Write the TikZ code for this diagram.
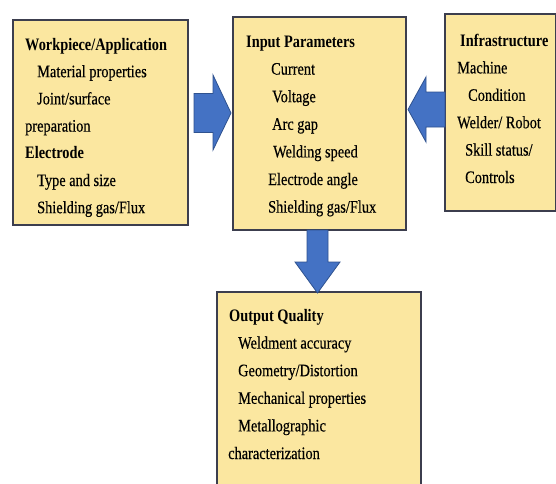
\documentclass[tikz,border=0pt]{standalone}
\usepackage{fontspec}
\setmainfont{Liberation Serif}[FakeStretch=0.82, FakeBold=0.4, BoldFeatures={FakeBold=0}]
\usetikzlibrary{calc}
\definecolor{boxfill}{RGB}{251,231,160}
\definecolor{boxline}{RGB}{60,62,78}
\definecolor{arrfill}{RGB}{68,114,196}
\definecolor{arrline}{RGB}{47,82,143}
\tikzset{
  panel/.style={draw=boxline, line width=1.4pt, fill=boxfill},
  blockarrow/.style={draw=arrline, line width=0.8pt, fill=arrfill, line join=miter},
  txt/.style={anchor=base west, inner sep=0pt, font=\fontsize{17.5}{20}\selectfont},
  hdr/.style={txt, font=\fontsize{17.5}{20}\selectfont\bfseries},
}
\begin{document}
\begin{tikzpicture}[x=1pt,y=-1pt]
\clip (0,0) rectangle (556,483);
\fill[white] (0,0) rectangle (556,483);
% boxes
\draw[panel] (13,20) rectangle (188,225);
\draw[panel] (233,17) rectangle (406,230);
\draw[panel] (445,14) rectangle (555.3,211);
\draw[panel] (217,292) rectangle (421,500);
% named coordinates for block arrows
\coordinate (wpE) at (188,113);
\coordinate (inW) at (233,113);
\coordinate (inE) at (406,109.5);
\coordinate (infW) at (445,109.5);
\coordinate (inS) at (317.5,230);
\coordinate (outN) at (317.5,292);
% left arrow (pointing right)
\draw[blockarrow] ($(wpE)+(6,-19.5)$) -- ($(inW)+(-20,-19.5)$) -- ($(inW)+(-20,-38)$)
  -- ($(inW)+(-2,0)$) -- ($(inW)+(-20,37)$) -- ($(inW)+(-20,19.5)$) -- ($(wpE)+(6,19.5)$) -- cycle;
% right arrow (pointing left)
\draw[blockarrow] ($(infW)+(0,-17.5)$) -- ($(inE)+(20,-17.5)$) -- ($(inE)+(20,-32.5)$)
  -- ($(inE)+(2,0)$) -- ($(inE)+(20,32.5)$) -- ($(inE)+(20,17.5)$) -- ($(infW)+(0,17.5)$) -- cycle;
% down arrow
\draw[blockarrow] ($(inS)+(-10.5,0)$) -- ($(inS)+(10.5,0)$) -- ($(inS)+(10.5,32)$) -- ($(inS)+(22.5,32)$)
  -- ($(outN)+(0,1)$) -- ($(inS)+(-22.5,32)$) -- ($(inS)+(-10.5,32)$) -- cycle;
% left box text
\node[hdr] (w1) at (25,50) {Workpiece/Application};
\node[txt] (w2) at (37,77.2) {Material properties};
\node[txt] (w3) at (37,104.4) {Joint/surface};
\node[txt] (w4) at (25,131.6) {preparation};
\node[hdr] (w5) at (25,158.8) {Electrode};
\node[txt] (w6) at (37,186) {Type and size};
\node[txt] (w7) at (37,213.2) {Shielding gas/Flux};
% middle box text
\node[hdr] (i1) at (246,47) {Input Parameters};
\node[txt] (i2) at (271,74.6) {Current};
\node[txt] (i3) at (272,102.2) {Voltage};
\node[txt] (i4) at (272,129.8) {Arc gap};
\node[txt] (i5) at (273,157.4) {Welding speed};
\node[txt] (i6) at (268,185) {Electrode angle};
\node[txt] (i7) at (268,212.6) {Shielding gas/Flux};
% right box text
\node[hdr] (f1) at (460,46) {Infrastructure};
\node[txt] (f2) at (457,73.4) {Machine};
\node[txt] (f3) at (468,100.8) {Condition};
\node[txt] (f4) at (457,128.2) {Welder/ Robot};
\node[txt] (f5) at (465,155.6) {Skill status/};
\node[txt] (f6) at (465,183) {Controls};
% bottom box text
\node[hdr] (o1) at (229,321) {Output Quality};
\node[txt] (o2) at (238,348.6) {Weldment accuracy};
\node[txt] (o3) at (238,376.2) {Geometry/Distortion};
\node[txt] (o4) at (238,403.8) {Mechanical properties};
\node[txt] (o5) at (238,431.4) {Metallographic};
\node[txt] (o6) at (228,459) {characterization};
\end{tikzpicture}
\end{document}
